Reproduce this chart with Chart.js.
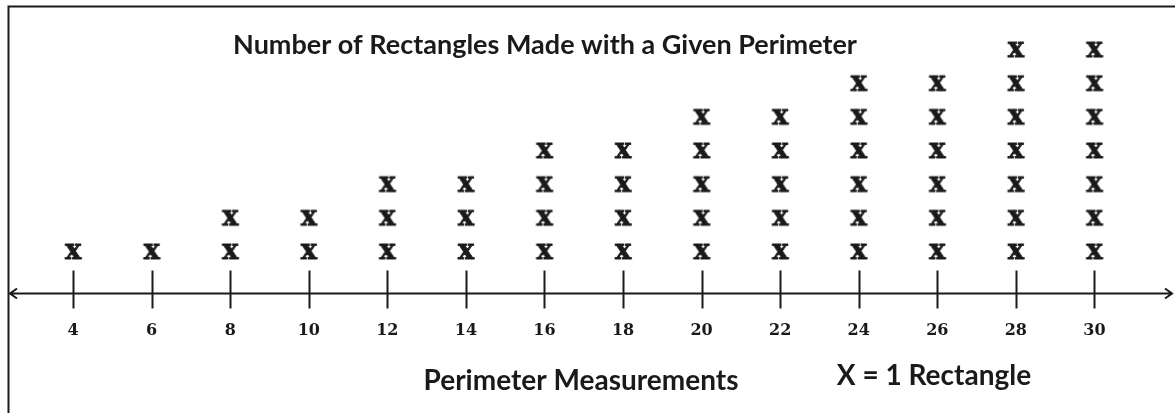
<!DOCTYPE html>
<html lang="en">
<head>
  <meta charset="UTF-8">
  <title>Number of Rectangles Made with a Given Perimeter</title>
  <script src="https://cdn.jsdelivr.net/npm/chart.js"></script>
  <style>
    html, body {
      margin: 0;
      padding: 0;
      background: white;
      overflow: hidden;
    }
    .chart-container {
      width: 1175px;
      height: 413px;
      position: relative;
    }
  </style>
</head>
<body>
  <div class="chart-container">
    <canvas id="linePlot"></canvas>
  </div>
  <script>
    // Perimeter values on the number line and how many rectangles have each one
    const perimeters = [4, 6, 8, 10, 12, 14, 16, 18, 20, 22, 24, 26, 28, 30];
    const rectangleCounts = [1, 1, 2, 2, 3, 3, 4, 4, 5, 5, 6, 6, 7, 7];
    const tickLabels = ['4', '6', '8', '10', '12', '14', '16', '18', '20', '22', '24', '26', '28', '30'];

    const chartTitle = 'Number of Rectangles Made with a Given Perimeter';
    const axisTitle = 'Perimeter Measurements';
    const keyText = 'X = 1 Rectangle';

    const ink = '#1a1a1a';

    // One stacked X per rectangle
    const marks = [];
    perimeters.forEach((p, i) => {
      for (let k = 1; k <= rectangleCounts[i]; k++) {
        marks.push({ x: p, y: k });
      }
    });

    // Bold serif "x" used as the point marker
    const xMark = document.createElement('canvas');
    xMark.width = 24;
    xMark.height = 24;
    const mctx = xMark.getContext('2d');
    mctx.fillStyle = ink;
    mctx.strokeStyle = ink;
    mctx.lineWidth = 0.8;
    mctx.font = 'bold 27px "DejaVu Serif"';
    mctx.textAlign = 'center';
    mctx.textBaseline = 'middle';
    mctx.fillText('x', 12, 10);
    mctx.strokeText('x', 12, 10);

    // Number line: axis with arrows, tick marks, frame and the free text
    const numberLine = {
      id: 'numberLine',
      beforeDatasetsDraw(chart) {
        const { ctx, chartArea, scales } = chart;
        const y = Math.round(chartArea.bottom) + 0.5;
        const x0 = 10, x1 = 1172;
        ctx.save();
        ctx.strokeStyle = ink;
        ctx.lineWidth = 2;

        // frame
        ctx.beginPath();
        ctx.moveTo(8.5, 413);
        ctx.lineTo(8.5, 6.5);
        ctx.lineTo(1175, 6.5);
        ctx.stroke();

        // axis line and arrow heads
        ctx.beginPath();
        ctx.moveTo(x0, y);
        ctx.lineTo(x1, y);
        ctx.moveTo(x0 + 7, y - 5);
        ctx.lineTo(x0, y);
        ctx.lineTo(x0 + 7, y + 5);
        ctx.moveTo(x1 - 7, y - 5);
        ctx.lineTo(x1, y);
        ctx.lineTo(x1 - 7, y + 5);
        ctx.stroke();

        // tick marks
        ctx.beginPath();
        perimeters.forEach(p => {
          const px = Math.round(scales.x.getPixelForValue(p)) + 0.5;
          ctx.moveTo(px, y - 23);
          ctx.lineTo(px, y + 15);
        });
        ctx.stroke();

        // text
        ctx.fillStyle = ink;
        ctx.textBaseline = 'middle';
        ctx.textAlign = 'center';
        ctx.font = 'bold 27px Lato';
        ctx.fillText(chartTitle, 545, 45);
        ctx.font = 'bold 28px Lato';
        ctx.fillText(axisTitle, 581, 381);
        ctx.fillText(keyText, 934, 376);
        ctx.restore();
      }
    };

    new Chart(document.getElementById('linePlot'), {
      type: 'scatter',
      data: {
        datasets: [{
          data: marks,
          pointStyle: xMark,
          pointRadius: 12,
          pointHoverRadius: 12
        }]
      },
      options: {
        responsive: true,
        maintainAspectRatio: false,
        animation: false,
        events: [],
        layout: { padding: { left: 10, right: 3, top: 6, bottom: 0 } },
        plugins: {
          legend: { display: false },
          tooltip: { enabled: false }
        },
        scales: {
          x: {
            type: 'linear',
            min: 2.47,
            max: 31.72,
            afterBuildTicks(scale) {
              scale.ticks = perimeters.map(v => ({ value: v }));
            },
            afterFit(scale) {
              scale.height = 120;
            },
            grid: { display: false },
            border: { display: false },
            ticks: {
              padding: 20,
              color: ink,
              maxRotation: 0,
              autoSkip: false,
              font: { family: 'DejaVu Serif', weight: 'bold', size: 16 },
              callback: (value) => tickLabels[perimeters.indexOf(value)]
            }
          },
          y: {
            display: false,
            min: -0.16,
            max: 8.16
          }
        }
      },
      plugins: [numberLine]
    });
  </script>
</body>
</html>
